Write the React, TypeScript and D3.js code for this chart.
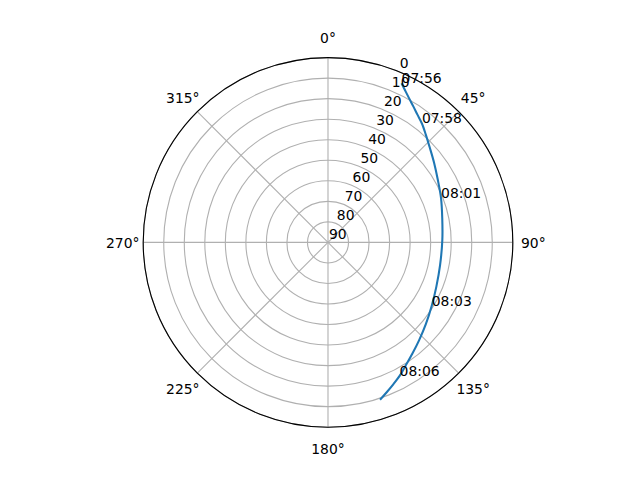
import { useEffect, useRef } from 'react';
import * as d3 from 'd3';

// pass track, one sample every 30 s
const times = [
  '07:56:00', '07:56:30', '07:57:00', '07:57:30', '07:58:00', '07:58:30',
  '07:59:00', '07:59:30', '08:00:00', '08:00:30', '08:01:00', '08:01:30',
  '08:02:00', '08:02:30', '08:03:00', '08:03:30', '08:04:00', '08:04:30',
  '08:05:00', '08:05:30', '08:06:00', '08:06:30', '08:07:00', '08:07:30',
];
const azimuth = [
  24.8, 27.0, 29.4, 32.1, 35.0, 38.3,
  42.2, 47.1, 53.1, 60.2, 68.7, 77.9,
  88.6, 101.5, 112.2, 121.4, 129.9, 137.0,
  143.0, 147.9, 151.8, 155.2, 158.5, 161.7,
];
const elevation = [
  4.6, 7.1, 9.5, 11.8, 14.05, 16.2,
  19.1, 22.3, 25.4, 28.4, 30.9, 33.1,
  34.3, 34.3, 33.0, 30.8, 27.9, 24.9,
  21.9, 19.0, 16.2, 14.0, 11.7, 9.3,
];
const labelEvery = 5;

const thetaTicks = [0, 45, 90, 135, 180, 225, 270, 315];
const rTicks = [0, 10, 20, 30, 40, 50, 60, 70, 80, 90];

const App = () => {
  const chartRef = useRef(null);

  useEffect(() => {
    d3.select(chartRef.current).selectAll('svg').remove();

    const width = 640;
    const height = 480;
    const cx = 328;
    const cy = 242.4;
    const R = 184.8;
    const font = 'DejaVu Sans, sans-serif';
    const fs = 13.9;
    const rad = (d: number) => (d * Math.PI) / 180;

    const r = d3.scaleLinear().domain([90, 0]).range([0, R]);

    const svg = d3.select(chartRef.current)
      .append('svg')
      .attr('width', width)
      .attr('height', height)
      .style('display', 'block')
      .style('background', '#fff');

    const g = svg.append('g')
      .attr('transform', `translate(${cx},${cy})`);

    // circular grid
    g.selectAll('.rgrid')
      .data(rTicks.filter(v => v < 90))
      .enter()
      .append('circle')
      .attr('r', d => r(d))
      .attr('fill', 'none')
      .attr('stroke', '#b0b0b0')
      .attr('stroke-width', 1.1);

    // angular grid
    g.selectAll('.tgrid')
      .data(thetaTicks)
      .enter()
      .append('line')
      .attr('x1', 0)
      .attr('y1', 0)
      .attr('x2', d => R * Math.sin(rad(d)))
      .attr('y2', d => -R * Math.cos(rad(d)))
      .attr('stroke', '#b0b0b0')
      .attr('stroke-width', 1.1);

    // spine
    g.append('circle')
      .attr('r', R)
      .attr('fill', 'none')
      .attr('stroke', '#000')
      .attr('stroke-width', 1.1);

    // track
    const idx = d3.range(times.length);
    const line = d3.lineRadial<number>()
      .angle(i => rad(azimuth[i]))
      .radius(i => r(elevation[i]))
      .curve(d3.curveCatmullRom);

    g.append('path')
      .datum(idx)
      .attr('d', line)
      .attr('fill', 'none')
      .attr('stroke', '#1f77b4')
      .attr('stroke-width', 2.08)
      .attr('stroke-linejoin', 'round');

    // time labels
    g.selectAll('.tlabel')
      .data(idx.filter(i => i % labelEvery === 0))
      .enter()
      .append('text')
      .attr('x', i => r(elevation[i]) * Math.sin(rad(azimuth[i])))
      .attr('y', i => -r(elevation[i]) * Math.cos(rad(azimuth[i])))
      .attr('font-family', font)
      .attr('font-size', fs)
      .text(i => times[i].slice(0, 5));

    // radial tick labels at 22.5 deg
    const rl = rad(22.5);
    g.selectAll('.rlabel')
      .data(rTicks)
      .enter()
      .append('text')
      .attr('x', d => r(d) * Math.sin(rl) + 1)
      .attr('y', d => -r(d) * Math.cos(rl) - 3.3)
      .attr('font-family', font)
      .attr('font-size', fs)
      .text(d => d);

    // angle labels
    const D = 205.3;
    g.selectAll('.alabel')
      .data(thetaTicks)
      .enter()
      .append('text')
      .attr('x', d => D * Math.sin(rad(d)))
      .attr('y', d => -D * Math.cos(rad(d)) + 6)
      .attr('text-anchor', 'middle')
      .attr('font-family', font)
      .attr('font-size', fs)
      .text(d => `${d}°`);
  }, []);

  return (
    <div style={{ position: 'absolute', left: 0, top: 0 }}>
      <div ref={chartRef}></div>
    </div>
  );
};

export default App;
